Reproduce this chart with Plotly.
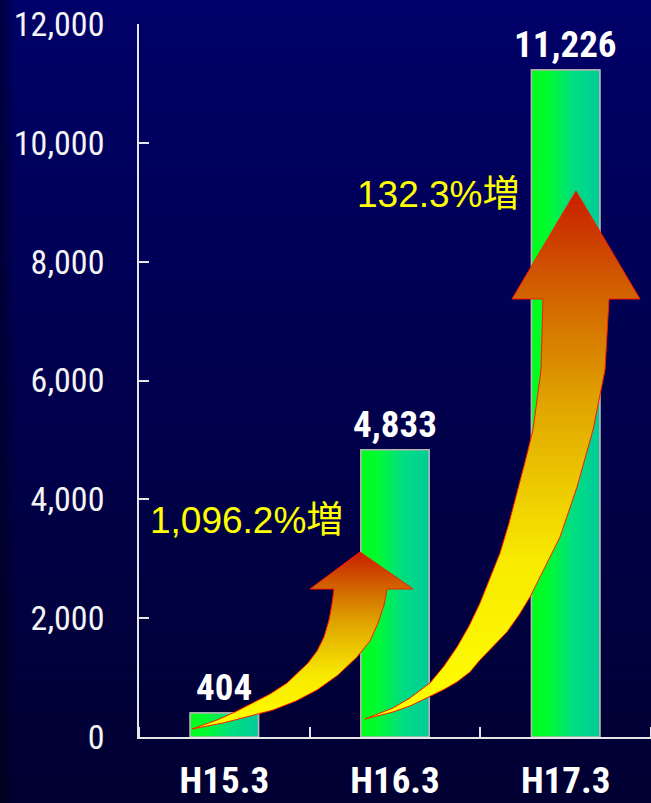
import plotly.graph_objects as go

# --- data -------------------------------------------------------------
periods = ["H15.3", "H16.3", "H17.3"]
counts = [404, 4833, 11226]
growth_labels = ["1,096.2%増", "132.3%増"]
y_ticks = [0, 2000, 4000, 6000, 8000, 10000, 12000]

# decorative growth arrows, outline in axis units (x = period index, y = count)
arrow1_x = [-0.1895, -0.0078, 0.1504, 0.2852, 0.4199, 0.5430, 0.6660, 0.7773, 0.8535, 0.9004, 0.9355, 0.9531,
            1.1055, 0.7949, 0.5020,
            0.6426, 0.6309, 0.6133, 0.5840, 0.5430, 0.4902, 0.4316, 0.3672, 0.2676, 0.1680, 0.0625, -0.0430, -0.1895]
arrow1_y = [135, 236, 353, 454, 606, 791, 1043, 1346, 1616, 1919, 2222, 2491,
            2491, 3114, 2491,
            2491, 2238, 1969, 1683, 1447, 1245, 1077, 909, 724, 572, 421, 286, 135]

arrow2_x = [0.8242, 0.9883, 1.0879, 1.1875, 1.2813, 1.3633, 1.4395, 1.4980, 1.5801, 1.6563, 1.7266, 1.7910,
            1.8789, 1.9668, 2.0664, 2.1602, 2.2305, 2.2539,
            2.4355, 2.0605, 1.6855,
            1.8672, 1.8555, 1.8086, 1.7617, 1.7148, 1.6680, 1.6152, 1.5566, 1.4980, 1.4336, 1.3633, 1.2871,
            1.2051, 1.0879, 0.9883, 0.8242]
arrow2_y = [303, 421, 522, 656, 791, 926, 1094, 1296, 1532, 1767, 2053, 2356,
            2861, 3366, 4208, 5167, 6177, 7372,
            7372, 9189, 7372,
            7372, 6177, 5167, 4628, 4107, 3602, 3097, 2676, 2255, 1868, 1515, 1195,
            909, 656, 488, 303]

W, H = 651, 803
M_L, M_R, M_T, M_B = 139, 0, 24, 66
BAR_W = 0.4
NARROW = "Roboto Condensed, Liberation Sans, Arial"

fig = go.Figure()

# bar trace (outline); the gradient faces are layered on top
fig.add_trace(go.Bar(
    x=list(range(len(periods))), y=counts, width=BAR_W,
    marker=dict(color="rgba(0,0,0,0)", line=dict(color="#B4B4B4", width=1.5)),
    hoverinfo="skip",
))

bar_scale = [[0, "#00FF1A"], [0.25, "#00FA32"], [0.6, "#00DE80"], [1, "#00CC99"]]
for i, v in enumerate(counts):
    x0, x1 = i - BAR_W / 2, i + BAR_W / 2
    fig.add_trace(go.Scatter(
        x=[x0, x1, x1, x0, x0], y=[0, 0, v, v, 0],
        mode="lines", fill="toself",
        fillgradient=dict(type="horizontal", colorscale=bar_scale),
        line=dict(color="#B4B4B4", width=1.5),
        hoverinfo="skip",
    ))

arrow_scale = [[0, "#FFFF00"], [0.3, "#F8EA00"], [0.6, "#E0A400"], [0.8, "#D26400"], [1, "#C81E00"]]
for ax_, ay_ in ((arrow1_x, arrow1_y), (arrow2_x, arrow2_y)):
    fig.add_trace(go.Scatter(
        x=ax_, y=ay_, mode="lines", fill="toself",
        fillgradient=dict(type="vertical", colorscale=arrow_scale),
        line=dict(color="#FF1A00", width=1),
        hoverinfo="skip",
    ))

# value labels above the bars
label_font = dict(family=NARROW, size=37, color="#FFFFFF", weight="bold")
for i, v in enumerate(counts):
    fig.add_annotation(x=i, y=v, xref="x", yref="y", text=f"{v:,}", showarrow=False,
                       yanchor="bottom", yshift=2, font=label_font)

# growth rates between consecutive periods
growth_font = dict(family="Liberation Sans, Arial, Noto Sans CJK JP", size=37, color="#FFFF00")
growth_pos = [(-0.447, 3650), (0.766, 9130)]
for (gx, gy), txt in zip(growth_pos, growth_labels):
    fig.add_annotation(x=gx, y=gy, xref="x", yref="y", text=txt, showarrow=False,
                       xanchor="left", yanchor="middle", font=growth_font)

# navy background: vertical gradient bands plus a darker left edge
top_c, bot_c = (0, 0, 104), (0, 0, 50)
n_band = 60
py0 = -M_B / (H - M_T - M_B)
py1 = 1 + M_T / (H - M_T - M_B)
px0 = -M_L / (W - M_L - M_R)
shapes = []
for b in range(n_band):
    t = b / (n_band - 1)
    c = tuple(round(bot_c[j] + (top_c[j] - bot_c[j]) * t) for j in range(3))
    y0 = py0 + (py1 - py0) * b / n_band
    y1 = py0 + (py1 - py0) * (b + 1.15) / n_band
    shapes.append(dict(type="rect", xref="paper", yref="paper", x0=px0, x1=1.0, y0=y0, y1=y1,
                       fillcolor=f"rgb{c}", line=dict(width=0), layer="below"))
edge_px = 15
for s in range(8):
    a = 0.38 * (1 - s / 8)
    x0 = px0 + (s * edge_px / 8) / (W - M_L - M_R)
    x1 = px0 + ((s + 1) * edge_px / 8) / (W - M_L - M_R)
    shapes.append(dict(type="rect", xref="paper", yref="paper", x0=x0, x1=x1, y0=py0, y1=py1,
                       fillcolor=f"rgba(0,0,0,{a:.3f})", line=dict(width=0), layer="below"))

axis_col = "#E6E6E6"
fig.update_layout(
    width=W, height=H,
    margin=dict(l=M_L, r=M_R, t=M_T, b=M_B, pad=0, autoexpand=False),
    paper_bgcolor="#000040", plot_bgcolor="rgba(0,0,0,0)",
    showlegend=False, hovermode=False, barmode="overlay",
    shapes=shapes,
    xaxis=dict(
        range=[-0.5, 2.5], tickmode="array", tickvals=list(range(len(periods))), ticktext=periods,
        showline=True, linecolor=axis_col, linewidth=1.5, ticks="", showgrid=False, zeroline=False,
        tickfont=dict(family=NARROW, size=37, color="#FFFFFF", weight="bold"),
        ticklabelstandoff=10, automargin=False,
        minor=dict(tickmode="linear", tick0=-0.5, dtick=1, ticks="inside", ticklen=10,
                   tickwidth=1.5, tickcolor=axis_col, showgrid=False),
        fixedrange=True,
    ),
    yaxis=dict(
        range=[0, 12000], tickmode="array", tickvals=y_ticks, tickformat=",",
        showline=True, linecolor=axis_col, linewidth=1.5, ticks="inside", ticklen=10,
        tickwidth=1.5, tickcolor=axis_col, showgrid=False, zeroline=False,
        tickfont=dict(family=NARROW, size=34, color="#F4F4F4"),
        ticklabelstandoff=26, automargin=False,
        fixedrange=True,
    ),
)

fig.write_html("out.html", config={"displayModeBar": False})
